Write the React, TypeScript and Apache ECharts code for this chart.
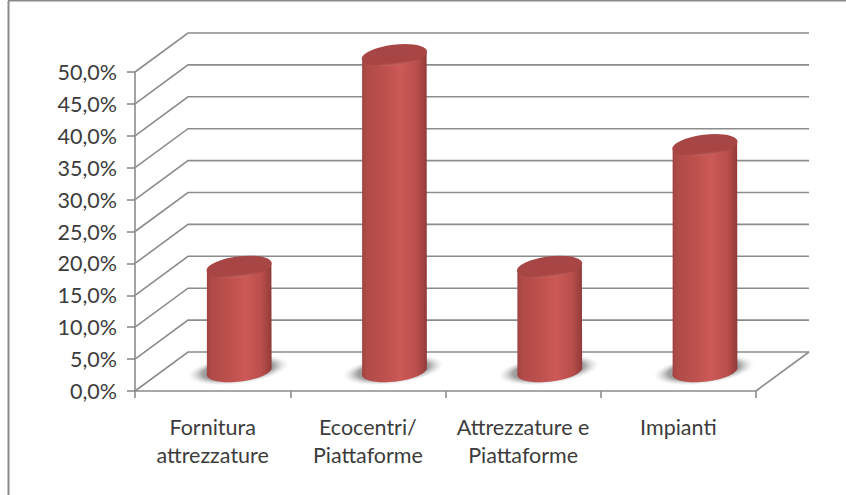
import React, { useEffect, useRef } from "react";
import * as echarts from "echarts";

const categories = ["Fornitura\nattrezzature", "Ecocentri/\nPiattaforme", "Attrezzature e\nPiattaforme", "Impianti"];
const values = [16, 49.2, 16, 35.1];
const wallTicks = [0, 5, 10, 15, 20, 25, 30, 35, 40, 45, 50];

const DEPTH_X = 53;
const DEPTH_Y = 39;
const AXIS_COLOR = "#8c8c8c";
const TEXT_COLOR = "#3c3c3c";
const FONT = "Lato";

const bodyGradient = {
  type: "linear", x: 0, y: 0, x2: 1, y2: 0,
  colorStops: [
    { offset: 0, color: "#a04341" },
    { offset: 0.08, color: "#b04b48" },
    { offset: 0.35, color: "#bd504d" },
    { offset: 0.6, color: "#cc5957" },
    { offset: 0.85, color: "#b84e4b" },
    { offset: 0.96, color: "#9c403e" },
    { offset: 1, color: "#8f3a38" },
  ],
};
const topGradient = {
  type: "linear", x: 0, y: 0, x2: 0, y2: 1,
  colorStops: [
    { offset: 0, color: "#a64644" },
    { offset: 0.84, color: "#a84644" },
    { offset: 1, color: "#c96461" },
  ],
};
const shadowGradient = {
  type: "radial", x: 0.5, y: 0.5, r: 0.5,
  colorStops: [
    { offset: 0, color: "rgba(150,150,150,1)" },
    { offset: 0.7, color: "rgba(155,155,155,0.95)" },
    { offset: 1, color: "rgba(225,225,225,0)" },
  ],
};

function renderWall(_: any, api: any) {
  const p = api.coord([0, api.value(0)]);
  const band = api.size([1, 0])[0];
  const x0 = p[0] - band / 2;
  const y0 = p[1];
  const style = { stroke: AXIS_COLOR, lineWidth: 1.6, fill: "none" };
  const children: any[] = [
    { type: "polyline", shape: { points: [[x0, y0], [x0 + DEPTH_X, y0 - DEPTH_Y], [x0 + band * 4 + DEPTH_X, y0 - DEPTH_Y]] }, style },
  ];
  if (api.value(0) === 0) {
    children.push({
      type: "line",
      shape: { x1: x0 + band * 4, y1: y0, x2: x0 + band * 4 + DEPTH_X, y2: y0 - DEPTH_Y },
      style,
    });
  }
  return { type: "group", children };
}

function renderCylinder(_: any, api: any) {
  const top = api.coord([api.value(0), api.value(1)]);
  const base = api.coord([api.value(0), 0]);
  const cx = top[0] + DEPTH_X / 2;
  const yT = top[1] - 22;
  const yB = base[1] - 22;
  const rx = 32.5;
  const ry = 10.5;
  const rot = 7;
  const rad = (rot * Math.PI) / 180;
  const dx = rx * Math.cos(rad);
  const dy = rx * Math.sin(rad);
  const d = `M${cx - dx} ${yT + dy} L${cx - dx} ${yB + dy} A${rx} ${ry} ${-rot} 0 0 ${cx + dx} ${yB - dy} L${cx + dx} ${yT - dy} Z`;
  return {
    type: "group",
    children: [
      {
        type: "ellipse",
        x: cx - 1, y: yB + 1, rotation: rad,
        shape: { cx: 0, cy: 0, rx: 51, ry: 14 },
        style: { fill: shadowGradient },
      },
      { type: "path", shape: { pathData: d }, style: { fill: bodyGradient } },
      {
        type: "ellipse",
        x: cx, y: yT, rotation: rad,
        shape: { cx: 0, cy: 0, rx: rx + 0.3, ry },
        style: { fill: topGradient },
      },
    ],
  };
}

export default function App() {
  const ref = useRef<HTMLDivElement>(null);
  useEffect(() => {
    document.body.style.margin = "0";
    const chart = echarts.init(ref.current!, null, { renderer: "svg" });
    chart.setOption({
      animation: false,
      backgroundColor: "#ffffff",
      grid: { left: 135, right: 90, top: 72, bottom: 104 },
      graphic: [
        { type: "line", shape: { x1: 8.5, y1: 1, x2: 8.5, y2: 495 }, style: { stroke: "#8a8a8a", lineWidth: 2 } },
        { type: "line", shape: { x1: 8, y1: 0.5, x2: 846, y2: 0.5 }, style: { stroke: "#8a8a8a", lineWidth: 2 } },
      ],
      xAxis: {
        type: "category",
        data: categories,
        axisLine: { lineStyle: { color: AXIS_COLOR, width: 1.6 } },
        axisTick: { show: true, length: 7, lineStyle: { color: AXIS_COLOR, width: 1.6 } },
        axisLabel: { color: TEXT_COLOR, fontFamily: FONT, fontSize: 21.5, lineHeight: 28, margin: 22, interval: 0 },
      },
      yAxis: {
        type: "value",
        min: 0,
        max: 50,
        interval: 5,
        splitLine: { show: false },
        axisLine: { show: true, lineStyle: { color: AXIS_COLOR, width: 1.6 } },
        axisTick: { show: true, length: 8, lineStyle: { color: AXIS_COLOR, width: 1.6 } },
        axisLabel: {
          color: TEXT_COLOR, fontFamily: FONT, fontSize: 21.5, margin: 18,
          formatter: (v: number) => v.toFixed(1).replace(".", ",") + "%",
        },
      },
      series: [
        {
          type: "custom",
          name: "wall",
          z: 1,
          silent: true,
          renderItem: renderWall,
          encode: { y: 0 },
          data: wallTicks.map((t) => [t]),
          clip: false,
        },
        {
          type: "custom",
          name: "values",
          z: 3,
          renderItem: renderCylinder,
          encode: { x: 0, y: 1 },
          data: values.map((v, i) => [i, v]),
          clip: false,
        },
      ],
    });
    return () => chart.dispose();
  }, []);
  return <div ref={ref} style={{ width: 846, height: 495 }} />;
}
